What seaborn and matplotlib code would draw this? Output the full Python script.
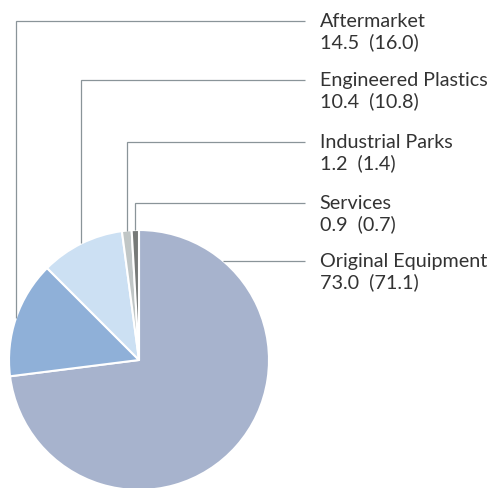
import numpy as np
import matplotlib
matplotlib.use("Agg")
import matplotlib.pyplot as plt
import seaborn as sns

# Data
segments = ["Original Equipment", "Aftermarket", "Engineered Plastics", "Industrial Parks", "Services"]
values = [73.0, 14.5, 10.4, 1.2, 0.9]
prior_values = [71.1, 16.0, 10.8, 1.4, 0.7]
colors = ["#a7b3cd", "#8fb0d8", "#cce0f3", "#c0c6c6", "#777a78"]

sns.set_theme(style="white")
plt.rcParams['font.family'] = ['Lato', 'DejaVu Sans']

W, H = 493, 488
fig = plt.figure(figsize=(W / 100, H / 100), dpi=100)
ax = fig.add_axes([0, 0, 1, 1])

R = 130.0  # pixels per unit
cx, cy = 139.0, 360.0

wedges, _ = ax.pie(values, colors=colors, startangle=90, counterclock=False,
                   radius=1.0, center=(0, 0),
                   wedgeprops=dict(edgecolor="white", linewidth=1.5))
ax.set_xlim(-cx / R, (W - cx) / R)
ax.set_ylim((cy - H) / R, cy / R)
ax.set_aspect("equal")
ax.axis("off")

line_color = "#8a9499"
text_color = "#333333"
row_px = {"Aftermarket": 21, "Engineered Plastics": 80, "Industrial Parks": 142,
          "Services": 203, "Original Equipment": 261}
x_line_end = (305 - cx) / R
x_text = (319.5 - cx) / R

for name, val, prev, w in zip(segments, values, prior_values, wedges):
    y_row = (cy - row_px[name]) / R
    if name == "Original Equipment":
        x0 = np.sqrt(1 - y_row ** 2)
        ax.plot([x0, x_line_end], [y_row, y_row], color=line_color, lw=0.9,
                solid_capstyle="butt")
    else:
        mid = np.deg2rad((w.theta1 + w.theta2) / 2)
        x0, y0 = np.cos(mid), np.sin(mid)
        ax.plot([x0, x0, x_line_end], [y0, y_row, y_row], color=line_color, lw=0.9,
                solid_joinstyle="miter", solid_capstyle="butt")
    ax.text(x_text, y_row - 6 / R, name, ha="left", va="baseline", fontsize=14.2,
            color=text_color)
    ax.text(x_text, y_row - 27.5 / R, f"{val:.1f}  ({prev:.1f})", ha="left", va="baseline",
            fontsize=14.2, color=text_color)

fig.savefig("out.png", dpi=100)
